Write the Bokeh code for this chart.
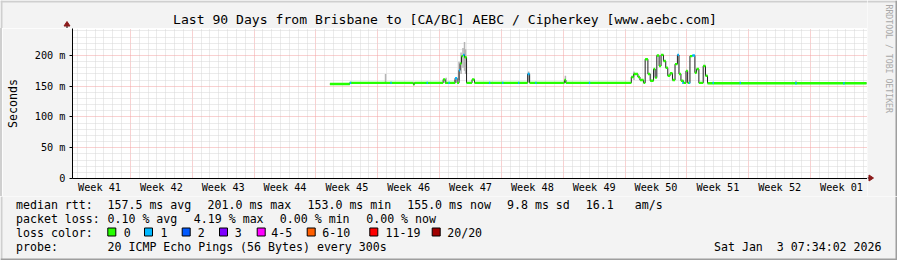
import math
from bokeh.plotting import figure
from bokeh.layouts import column, row
from bokeh.models import Range1d, FixedTicker, ColumnDataSource, Spacer
from bokeh.core.properties import value
from bokeh.embed import file_html
from bokeh.resources import INLINE

# ---------------- data (x in days since graph start, y in ms) ----------------
title_text = "Last 90 Days from Brisbane to [CA/BC] AEBC / Cipherkey [www.aebc.com]"

week_labels = ["Week 41", "Week 42", "Week 43", "Week 44", "Week 45", "Week 46",
               "Week 47", "Week 48", "Week 49", "Week 50", "Week 51", "Week 52",
               "Week 01"]
week_centers = [3.06, 10.06, 17.06, 24.06, 31.06, 38.06, 45.06, 52.06, 59.06,
                66.06, 73.06, 80.06, 87.06]
week_bounds = [6.56, 13.56, 20.56, 27.56, 34.56, 41.56, 48.56, 55.56, 62.56,
               69.56, 76.56, 83.56]

y_ticks = [0, 50, 100, 150, 200]
y_tick_labels = ["0", "50 m", "100 m", "150 m", "200 m"]

# median rtt, step segments (start day, median ms, loss level index)
med_t = [29.14, 31.39, 38.59, 38.70, 41.96, 42.19, 43.31, 43.54, 43.76, 43.88,
         44.04, 44.21, 44.38, 44.61, 45.23, 45.51, 51.53, 51.75, 55.69, 55.86,
         63.26, 63.53, 64.01, 64.24, 64.65, 64.83, 65.14, 65.40, 65.78, 65.96,
         66.15, 66.41, 66.63, 66.90, 67.16, 67.39, 67.65, 67.92, 68.21, 68.48,
         68.66, 68.88, 69.15, 69.45, 69.64, 69.90, 70.17, 70.46, 70.65, 70.91,
         71.40, 71.66, 71.89]
med_ms = [153.5, 155.5, 153.0, 155.5, 161.0, 155.5, 163.0, 155.5, 176.0, 187.0,
          199.0, 201.0, 197.0, 155.5, 161.0, 155.5, 170.0, 155.5, 160.0, 155.5,
          165.0, 170.0, 165.0, 160.0, 155.5, 194.0, 170.0, 159.0, 178.0, 164.0,
          200.0, 183.0, 201.0, 191.0, 180.0, 167.0, 171.0, 160.0, 186.0, 201.0,
          170.0, 159.0, 155.5, 175.0, 155.5, 199.0, 200.0, 172.0, 178.0, 155.5,
          183.0, 167.0, 155.0]
med_loss = [0, 0, 0, 0, 0, 0, 1, 0, 1, 0,
            0, 1, 0, 0, 0, 0, 1, 0, 0, 0,
            0, 0, 0, 0, 0, 0, 0, 0, 0, 0,
            0, 0, 0, 0, 0, 0, 0, 0, 0, 1,
            0, 0, 0, 0, 0, 0, 1, 0, 0, 0,
            0, 0, 0]
data_end = 89.89

# short single-loss marks on the flat median
blue_t = [31.47, 36.06, 40.16, 42.64, 47.22, 48.71, 50.51, 52.46, 58.53, 69.10,
          69.86, 72.53, 75.60, 81.90, 87.33]
blue_ms = [155.5, 155.5, 155.5, 155.5, 155.5, 155.5, 155.5, 155.5, 155.5, 155.5,
           155.5, 155.5, 155.5, 155.0, 155.0]

# smoke (ping spread) spikes
smoke_t = [35.44, 42.30, 43.28, 43.76, 43.99, 44.21, 44.38, 44.50, 51.64, 55.80,
           63.56, 81.90]
smoke_lo = [154, 154, 154, 160, 170, 180, 175, 170, 156, 155, 160, 154]
smoke_hi = [170, 164, 160, 190, 205, 212, 222, 210, 174, 167, 174, 159]

loss_names = ["0", "1", "2", "3", "4-5", "6-10", "11-19", "20/20"]
loss_colors = ["#26ff00", "#00b8ff", "#0059ff", "#7e00ff", "#ff00ff", "#ff5e00",
               "#ff0000", "#a00000"]

row_heads = ["median rtt:", "packet loss:", "loss color:", "probe:"]
rtt_stats = ["157.5 ms avg", "201.0 ms max", "153.0 ms min", "155.0 ms now",
             "9.8 ms sd", "16.1", "am/s"]
loss_stats = ["0.10 % avg", "4.19 % max", "0.00 % min", "0.00 % now"]
probe_text = "20 ICMP Echo Pings (56 Bytes) every 300s"
date_text = "Sat Jan \u00a03 07:34:02 2026"
side_text = "RRDTOOL / TOBI OETIKER"

# ---------------- layout constants (pixels) ----------------
W, H = 897, 260
FONT = "DejaVu Sans Mono"
BG = "#F3F3F3"
SHADE_A = "#CFCFCF"
SHADE_B = "#9E9E9E"
ARROW = "#8B1A1A"
Y_MAX = 243.9
X_MAX = 90.0
LEFT = 67          # frame left
FRAME_W = 800
TOP = 28           # frame top
FRAME_H = 150
MAIN_BOTTOM = 18   # space for week labels
UP_H = TOP + FRAME_H + MAIN_BOTTOM


def pixel_fig(x0, x1, y0, y1):
    f = figure(width=x1 - x0, height=y1 - y0, x_range=Range1d(x0, x1),
               y_range=Range1d(y1, y0), output_backend="svg", toolbar_location=None,
               x_axis_type=None, y_axis_type=None, min_border=0,
               min_border_left=0, min_border_right=0, min_border_top=0,
               min_border_bottom=0, background_fill_color=BG,
               border_fill_color=BG, outline_line_color=None)
    return f


def put_text(f, xs, ys, texts, size="11.6px", align="left", color="black",
             angle=0.0, baseline="middle"):
    src = ColumnDataSource(dict(x=xs, y=ys, t=texts))
    f.text(x="x", y="y", text="t", source=src, text_font=value(FONT),
           text_font_size=value(size), text_color=color, text_align=align,
           text_baseline=baseline, angle=angle)


# ---------------- main chart ----------------
p = figure(width=LEFT - 2 + FRAME_W, height=FRAME_H + MAIN_BOTTOM,
           x_range=Range1d(0, X_MAX), y_range=Range1d(0, Y_MAX),
           output_backend="svg", toolbar_location=None,
           min_border_left=LEFT - 2, min_border_right=0, min_border_top=0,
           min_border_bottom=MAIN_BOTTOM, background_fill_color="white",
           border_fill_color=BG, outline_line_color=None)

day_lines = [0.56 + k for k in range(90)]
p.xgrid.ticker = FixedTicker(ticks=week_bounds,
                             minor_ticks=[d for d in day_lines
                                          if all(abs(d - b) > 0.01 for b in week_bounds)])
p.xgrid.grid_line_color = "#F2A3A3"
p.xgrid.grid_line_dash = "1 1"
p.xgrid.minor_grid_line_color = "#D6D6D6"
p.xgrid.minor_grid_line_dash = "1 1"

y_minor = [v for v in range(10, 250, 10) if v % 50 != 0]
yt = FixedTicker(ticks=y_ticks, minor_ticks=y_minor)
p.ygrid.ticker = yt
p.ygrid.grid_line_color = "#F2A3A3"
p.ygrid.grid_line_dash = "1 1"
p.ygrid.minor_grid_line_color = "#D6D6D6"
p.ygrid.minor_grid_line_dash = "1 1"

xa = p.xaxis[0]
xa.ticker = FixedTicker(ticks=week_centers)
xa.major_label_overrides = {c: l for c, l in zip(week_centers, week_labels)}
xa.major_tick_out = 0
xa.major_tick_in = 0
xa.minor_tick_out = 0
xa.minor_tick_in = 0
xa.major_label_standoff = 3
xa.major_label_text_font = FONT
xa.major_label_text_font_size = "10.2px"
xa.major_label_text_color = "black"
xa.axis_line_color = "black"

ya = p.yaxis[0]
ya.ticker = yt
ya.major_label_overrides = {v: l for v, l in zip(y_ticks, y_tick_labels)}
ya.major_tick_out = 3
ya.major_tick_in = 0
ya.minor_tick_out = 0
ya.minor_tick_in = 0
ya.major_tick_line_color = "black"
ya.major_label_standoff = 4
ya.major_label_text_font = FONT
ya.major_label_text_font_size = "10.2px"
ya.major_label_text_color = "black"
ya.axis_line_color = "black"
ya.axis_label = "Seconds"
ya.axis_label_text_font = FONT
ya.axis_label_text_font_size = "11.6px"
ya.axis_label_text_font_style = "normal"
ya.axis_label_text_color = "black"
ya.axis_label_standoff = 12

# smoke
sw = 0.17
p.quad(left=[t - sw / 2 for t in smoke_t], right=[t + sw / 2 for t in smoke_t],
       bottom=smoke_lo, top=smoke_hi, fill_color="#B4B4B4", line_color=None)

# median line (dark)
p.step(x=med_t + [data_end], y=med_ms + [med_ms[-1]], mode="after",
       line_color="#202020", line_width=1)

# loss-coloured bands around the median
half = 2.0
seg_end = med_t[1:] + [data_end]
p.quad(left=med_t, right=seg_end,
       bottom=[m - half for m in med_ms], top=[m + half for m in med_ms],
       fill_color=[loss_colors[l] for l in med_loss], line_color=None)
bw = 0.16
p.quad(left=[t - bw / 2 for t in blue_t], right=[t + bw / 2 for t in blue_t],
       bottom=[m - half for m in blue_ms], top=[m + half for m in blue_ms],
       fill_color=loss_colors[1], line_color=None)

left_strip = Spacer(width=2, height=FRAME_H + MAIN_BOTTOM,
                    styles={"background-color": SHADE_A})

# ---------------- header (title, y-axis arrow) ----------------
hd = pixel_fig(0, LEFT + FRAME_W, 0, TOP)
hd.quad(left=[0, 0], right=[LEFT + FRAME_W, 2], top=[0, 0], bottom=[2, TOP],
        fill_color=SHADE_A, line_color=None)
put_text(hd, [444.5], [19.1], [title_text], size="13.1px", align="center")
hd.segment(x0=[66.5], y0=[TOP], x1=[66.5], y1=[24], line_color="black", line_width=1)
hd.patch(x=[63.5, 69.5, 66.5], y=[25.5, 25.5, 21.0], fill_color=ARROW, line_color=ARROW)

# ---------------- right strip (watermark, x-axis arrow) ----------------
sd = pixel_fig(LEFT + FRAME_W, W, 0, UP_H)
sd.quad(left=[LEFT + FRAME_W, W - 2], right=[W, W], top=[0, 0], bottom=[2, UP_H],
        fill_color=[SHADE_A, SHADE_B], line_color=None)
put_text(sd, [888.0], [4.0], [side_text], size="8.2px", align="left",
         color="#A8A8A8", angle=-math.pi / 2, baseline="middle")
zero_y = TOP + FRAME_H - 0.5
sd.segment(x0=[LEFT + FRAME_W], y0=[zero_y], x1=[LEFT + FRAME_W + 3], y1=[zero_y],
           line_color="black", line_width=1)
sd.patch(x=[LEFT + FRAME_W + 1.5, LEFT + FRAME_W + 1.5, LEFT + FRAME_W + 6],
         y=[zero_y - 3, zero_y + 3, zero_y], fill_color=ARROW, line_color=ARROW)

# ---------------- footer (legend) ----------------
ft = pixel_fig(0, W, UP_H, H)
ft.quad(left=[0, 0, W - 2], right=[2, W, W], top=[UP_H, H - 2, UP_H],
        bottom=[H, H, H], fill_color=[SHADE_A, SHADE_B, SHADE_B], line_color=None)

row_y = [204.3, 218.3, 232.3, 246.0]
put_text(ft, [15.5] * 4, row_y, row_heads)
put_text(ft, [107, 207, 307, 406.7, 506.5, 585.3, 634.3], [row_y[0]] * 7, rtt_stats)
put_text(ft, [107, 193.3, 279.3, 365.7], [row_y[1]] * 4, loss_stats)
box_x = [107.3, 144.0, 181.7, 219.0, 256.7, 306.7, 369.3, 431.7]
lab_x = [123.3, 160.0, 197.3, 234.3, 270.7, 321.7, 385.0, 446.7]
ft.quad(left=box_x, right=[b + 8 for b in box_x], top=[227.5] * 8,
        bottom=[235.5] * 8, fill_color=loss_colors, line_color="black", line_width=1)
put_text(ft, lab_x, [row_y[2]] * 8, loss_names)
put_text(ft, [107], [row_y[3]], [probe_text])
put_text(ft, [881], [row_y[3]], [date_text], align="right")

layout = column(row(column(hd, row(left_strip, p)), sd), ft)
open("out.html", "w").write(file_html(layout, INLINE))
